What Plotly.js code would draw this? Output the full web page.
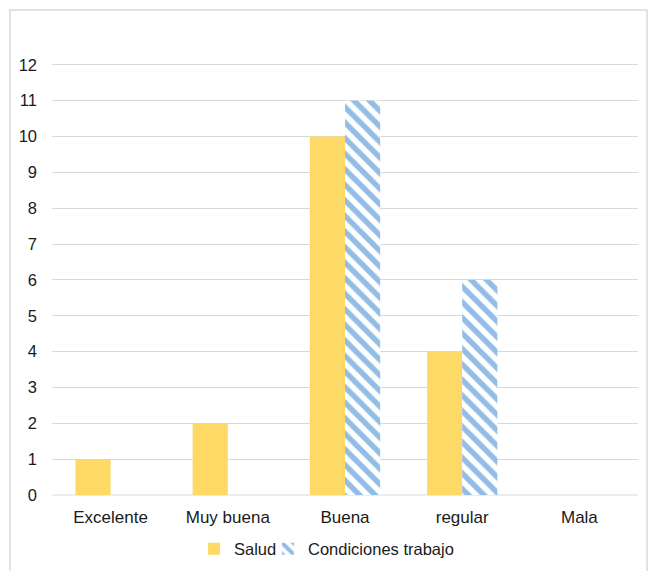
<!DOCTYPE html>
<html>
<head>
<meta charset="utf-8">
<script src="https://cdn.plot.ly/plotly-3.0.1.min.js"></script>
<style>
  html, body { margin: 0; padding: 0; background: #ffffff; }
  #chart { width: 649px; height: 571px; }
</style>
</head>
<body>
<div id="chart"></div>
<script>
// Self-rated categories on the x axis
const categories = ['Excelente', 'Muy buena', 'Buena', 'regular', 'Mala'];
// Counts per category for each series
const saludValues = [1, 2, 10, 4, 0];
const condicionesValues = [0, 0, 11, 6, 0];
const yTicks = [0, 1, 2, 3, 4, 5, 6, 7, 8, 9, 10, 11, 12];

const FONT = 'Liberation Sans, Arial, sans-serif';
const TEXT = '#1a1a1a';
const GRID = '#d9d9d9';

const traces = [
  {
    type: 'bar',
    name: 'Salud',
    x: categories,
    y: saludValues,
    legend: 'legend',
    marker: { color: '#FFD966', line: { width: 0 } },
    hoverinfo: 'x+y+name'
  },
  {
    type: 'bar',
    name: 'Condiciones trabajo',
    x: categories,
    y: condicionesValues,
    legend: 'legend2',
    marker: {
      color: '#ffffff',
      line: { width: 0 },
      pattern: { shape: '\\', fgcolor: '#92BDE6', bgcolor: '#ffffff', fgopacity: 1, size: 11, solidity: 0.5, fillmode: 'overlay' }
    },
    hoverinfo: 'x+y+name'
  }
];

// Shared look of the two legend boxes placed side by side under the axis
const legendBase = {
  orientation: 'h',
  xanchor: 'left',
  y: -0.125,
  yanchor: 'middle',
  font: { family: FONT, size: 16.5, color: TEXT },
  itemwidth: 30,
  bgcolor: 'rgba(0,0,0,0)'
};

const layout = {
  width: 649,
  height: 571,
  margin: { l: 52, r: 11, t: 63, b: 76, autoexpand: false },
  paper_bgcolor: '#ffffff',
  plot_bgcolor: '#ffffff',
  font: { family: FONT, size: 16.5, color: TEXT },
  barmode: 'group',
  bargap: 0.4,
  bargroupgap: 0,
  showlegend: true,
  legend: Object.assign({}, legendBase, { x: 0.2423 }),
  legend2: Object.assign({}, legendBase, { x: 0.3686 }),
  xaxis: {
    type: 'category',
    showgrid: false,
    showline: false,
    zeroline: false,
    ticks: '',
    tickfont: { family: FONT, size: 17, color: TEXT },
    ticklabelstandoff: 10
  },
  yaxis: {
    range: [0, 12.05],
    tickvals: yTicks,
    ticktext: yTicks.map(String),
    showgrid: true,
    gridcolor: GRID,
    gridwidth: 1,
    zeroline: false,
    showline: false,
    ticks: '',
    tickfont: { family: FONT, size: 16.5, color: TEXT },
    ticklabelstandoff: 14
  },
  shapes: [
    {
      type: 'line', xref: 'paper', yref: 'paper',
      x0: 0, x1: 1, y0: 0, y1: 0,
      line: { color: GRID, width: 1 }, layer: 'below'
    },
    {
      type: 'rect', xref: 'paper', yref: 'paper',
      x0: -0.0717, x1: 1.0154, y0: -0.25, y1: 1.1227,
      line: { color: GRID, width: 1.5 }, fillcolor: 'rgba(0,0,0,0)', layer: 'above'
    }
  ]
};

Plotly.newPlot('chart', traces, layout, { displayModeBar: false, staticPlot: true });
</script>
</body>
</html>
